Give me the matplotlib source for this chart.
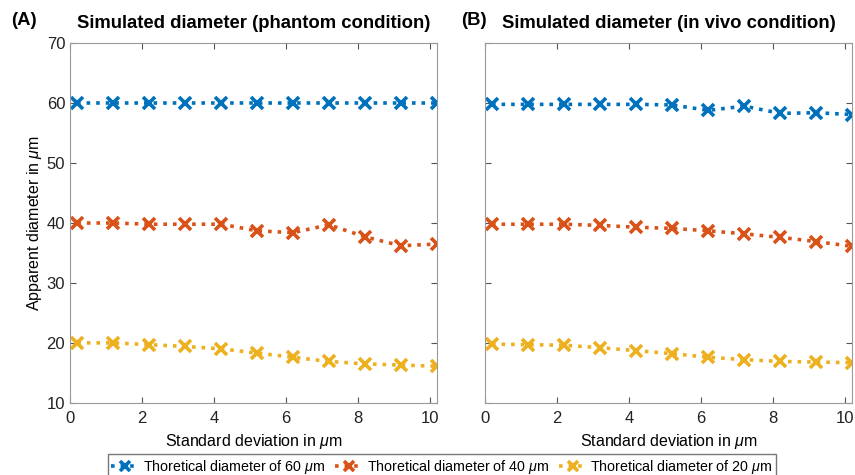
import matplotlib
matplotlib.use("Agg")
import matplotlib.pyplot as plt

plt.rcParams['font.family'] = ['Liberation Sans', 'DejaVu Sans']
plt.rcParams['mathtext.fontset'] = 'custom'
plt.rcParams['mathtext.it'] = 'Liberation Sans:italic'
plt.rcParams['mathtext.rm'] = 'Liberation Sans'

# standard deviation (um)
sd = [0.2, 1.2, 2.2, 3.2, 4.2, 5.2, 6.2, 7.2, 8.2, 9.2, 10.2]

# (A) phantom condition
phantom_60 = [60.0, 60.0, 60.0, 60.0, 60.0, 60.0, 60.0, 60.0, 60.0, 60.0, 60.0]
phantom_40 = [40.0, 40.0, 39.8, 39.8, 39.8, 38.7, 38.4, 39.7, 37.7, 36.2, 36.5]
phantom_20 = [20.0, 20.0, 19.7, 19.4, 19.0, 18.3, 17.6, 16.9, 16.5, 16.3, 16.1]

# (B) in vivo condition
vivo_60 = [59.8, 59.8, 59.8, 59.8, 59.8, 59.7, 58.8, 59.5, 58.3, 58.4, 58.1]
vivo_40 = [39.8, 39.8, 39.8, 39.6, 39.3, 39.1, 38.7, 38.2, 37.6, 36.9, 36.1]
vivo_20 = [19.8, 19.7, 19.6, 19.2, 18.7, 18.2, 17.6, 17.2, 16.9, 16.8, 16.7]

labels = ['Thoretical diameter of 60 $\\mu$m',
          'Thoretical diameter of 40 $\\mu$m',
          'Thoretical diameter of 20 $\\mu$m']
colors = ['#0072BD', '#D95319', '#EDB120']

fig = plt.figure(figsize=(8.55, 4.75), dpi=100)
axA = fig.add_axes([0.082, 0.152, 0.429, 0.757])
axB = fig.add_axes([0.567, 0.152, 0.430, 0.757])

panels = [
    (axA, [phantom_60, phantom_40, phantom_20], '(A)', 'Simulated diameter (phantom condition)'),
    (axB, [vivo_60, vivo_40, vivo_20], '(B)', 'Simulated diameter (in vivo condition)'),
]

handles = []
for ax, series, tag, title in panels:
    for ys, c, lab in zip(series, colors, labels):
        h, = ax.plot(sd, ys, linestyle=':', color=c, linewidth=2.6,
                     marker='x', markersize=9, markeredgewidth=2.6, label=lab)
        if ax is axA:
            handles.append(h)
    ax.set_xlim(0, 10.2)
    ax.set_ylim(10, 70)
    ax.set_xticks([0, 2, 4, 6, 8, 10])
    ax.set_yticks([10, 20, 30, 40, 50, 60, 70])
    ax.tick_params(direction='in', top=True, right=True, length=4,
                   color='#555555', labelsize=12, labelcolor='#222222')
    ax.tick_params(axis='x', pad=6)
    for s in ax.spines.values():
        s.set_color('#9a9a9a')
        s.set_linewidth(0.8)
    ax.set_xlabel('Standard deviation in $\\mu$m', fontsize=11.5, labelpad=4)
    ax.set_title(title, fontsize=13.3, fontweight='bold', pad=11)
    ax.text(-0.16 if ax is axA else -0.065, 1.04, tag, transform=ax.transAxes,
            fontsize=13.3, fontweight='bold', ha='left', va='bottom')

axA.set_ylabel('Apparent diameter in $\\mu$m', fontsize=11.5)
axA.yaxis.set_label_coords(-0.07, 0.5)
axB.set_yticklabels([])

fig.legend(handles=handles, loc='lower center', bbox_to_anchor=(0.517, -0.012),
           ncol=3, fontsize=10.3, frameon=True, fancybox=False, edgecolor='#555555',
           handlelength=1.9, handletextpad=0.3, columnspacing=0.7,
           borderpad=0.25, borderaxespad=0.1, markerscale=0.8)

fig.savefig('out.png', dpi=100)
